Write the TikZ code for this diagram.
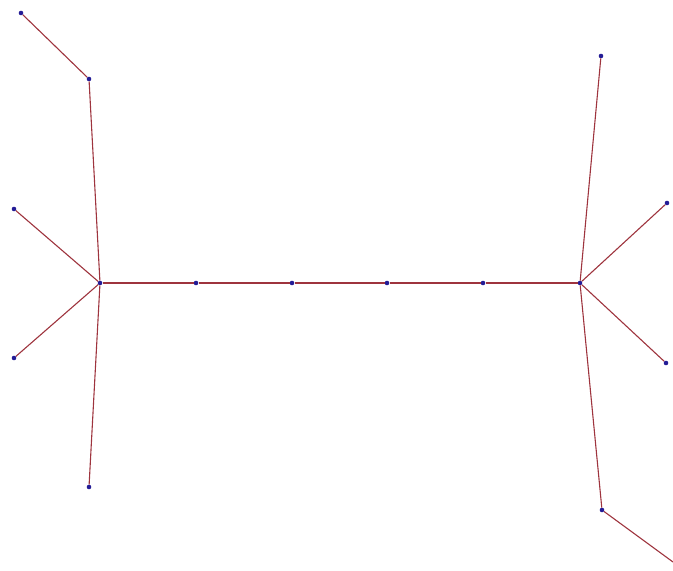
\documentclass[tikz,border=0pt]{standalone}
\usepackage{tikz}
\usepackage{xcolor}
\usetikzlibrary{positioning}
\definecolor{treered}{RGB}{158,52,62}
\definecolor{treeblue}{RGB}{36,28,150}

\begin{document}
\begin{tikzpicture}[x=1pt,y=-1pt,
    vtx/.style={circle,fill=treeblue,inner sep=0pt,minimum size=4.6pt},
    edge/.style={treered,line width=1.1pt}]
  \useasboundingbox (0,0) rectangle (673,571);

  % left hub and its leaves
  \node[vtx] (hubL) at (100,283) {};
  \node[vtx] (lA) at (21,13) {};
  \node[vtx] (lB) at (89,79) {};
  \node[vtx] (lC) at (14,209) {};
  \node[vtx] (lE) at (14,358) {};
  \node[vtx] (lF) at (89,487) {};

  % spine
  \node[vtx] (s1) at (196,283) {};
  \node[vtx] (s2) at (292,283) {};
  \node[vtx] (s3) at (387,283) {};
  \node[vtx] (s4) at (483,283) {};
  \node[vtx] (hubR) at (580,283) {};

  % right hub and its leaves
  \node[vtx] (rG) at (601,56) {};
  \node[vtx] (rH) at (667,203) {};
  \node[vtx] (rI) at (666,363) {};
  \node[vtx] (rJ) at (602,510) {};
  \coordinate (rK) at (673,562);

  \draw[edge] (lA) -- (lB) -- (hubL);
  \draw[edge] (lC) -- (hubL);
  \draw[edge] (lE) -- (hubL);
  \draw[edge] (lF) -- (hubL);
  \draw[edge] (hubL) -- (s1) -- (s2) -- (s3) -- (s4) -- (hubR);
  \draw[edge] (hubR) -- (rG);
  \draw[edge] (hubR) -- (rH);
  \draw[edge] (hubR) -- (rI);
  \draw[edge] (hubR) -- (rJ) -- (rK);
\end{tikzpicture}
\end{document}
